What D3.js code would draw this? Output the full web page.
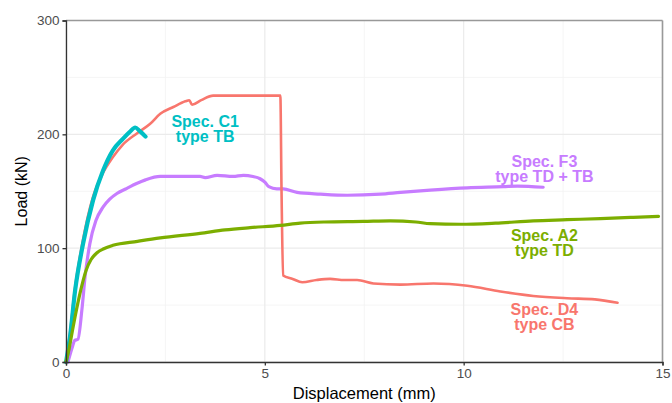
<!DOCTYPE html>
<html><head><meta charset="utf-8">
<script src="https://cdn.jsdelivr.net/npm/d3@7"></script>
<style>body{margin:0;background:#fff}svg{display:block}</style>
</head><body><div id="chart"></div>
<script>
// ---- data ----
const seriesNames = ["D4", "F3", "A2", "C1"];
const d4Disp = [0,0.1,0.22,0.42,0.67,0.93,1.18,1.43,1.79,2.11,2.37,2.7,3.0,3.1,3.17,3.4,3.7,5.39,5.42,5.46,5.7,5.94,6.3,6.64,7.0,7.32,7.73,8.41,9.24,10.09,10.92,11.75,12.6,13.3,13.87];
const d4Load = [0,25,63,106,144,166,180,191,201,209,218,224,229,230,226,230,234,234,150,76,73,70,72,73,72,72,69,68,69,67,62,58,56,55,52];
const c1Disp = [0,0.1,0.23,0.43,0.68,0.93,1.18,1.43,1.6,1.74,1.85,2.0];
const c1Load = [0,22,63,104,142,168,186,196,202,206,203,198];
const f3Disp = [0.05,0.15,0.22,0.3,0.4,0.48,0.6,0.75,0.93,1.1,1.28,1.5,1.79,2.0,2.37,2.8,3.37,3.5,3.8,4.2,4.46,4.7,4.88,5.0,5.1,5.3,5.46,5.81,6.4,7.07,7.9,8.41,9.16,10.09,11.0,11.35,12.0];
const f3Load = [0,12,19,20,46,75,104,124,136,143,148,152,157,160,163,163,163,162,164,163,164,163,161,158,154,152,152,149,147.5,146.5,147.5,149,151,153,154,154.5,153.5];
const a2Disp = [0,0.08,0.18,0.35,0.5,0.63,0.78,0.95,1.18,1.8,2.37,3.37,4.0,4.63,5.39,5.89,6.5,7.48,8.15,8.8,9.16,9.92,10.8,11.75,12.6,13.44,14.2,14.9];
const a2Load = [0,12,31,60,80,90,96,99.5,102.5,106,109,113,116,118,120,122,123,123.5,124,123,121.5,121,122,124,125,126,127,128];
const xTicks = [0,5,10,15];
const yTicks = [0,100,200,300];
const labelLines = {
  C1: ["Spec. C1","type TB"],
  F3: ["Spec. F3","type TD + TB"],
  A2: ["Spec. A2","type TD"],
  D4: ["Spec. D4","type CB"]
};
const labelAnchorDisp = {C1:3.5, F3:12.03, A2:12.03, D4:12.03};
const labelAnchorLoad = {C1:206.5, F3:171.5, A2:106.5, D4:41.5};

// ---- layout ----
const W = 672, H = 403;
const colors = {D4:"#F8766D", A2:"#7CAE00", C1:"#00BFC4", F3:"#C77CFF"};
const widths = {D4:2.6, A2:3.2, C1:4.2, F3:3.2};
const x = d3.scaleLinear().domain([0,15]).range([66,662.5]);
const y = d3.scaleLinear().domain([0,300]).range([362,20.5]);

const svg = d3.select("#chart").append("svg").attr("width",W).attr("height",H)
  .style("font-family","'Liberation Sans', Arial, sans-serif");

// grid
const g = svg.append("g");
const minorX = [2.5,7.5,12.5], minorY = [50,150,250];
g.selectAll(".mx").data(minorX).enter().append("line")
  .attr("x1",d=>x(d)).attr("x2",d=>x(d)).attr("y1",y(0)).attr("y2",y(300))
  .attr("stroke","#F2F2F2").attr("stroke-width",0.8);
g.selectAll(".my").data(minorY).enter().append("line")
  .attr("y1",d=>y(d)).attr("y2",d=>y(d)).attr("x1",x(0)).attr("x2",x(15))
  .attr("stroke","#F2F2F2").attr("stroke-width",0.8);
g.selectAll(".Mx").data(xTicks).enter().append("line")
  .attr("x1",d=>x(d)).attr("x2",d=>x(d)).attr("y1",y(0)).attr("y2",y(300))
  .attr("stroke","#EBEBEB").attr("stroke-width",1.2);
g.selectAll(".My").data(yTicks).enter().append("line")
  .attr("y1",d=>y(d)).attr("y2",d=>y(d)).attr("x1",x(0)).attr("x2",x(15))
  .attr("stroke","#EBEBEB").attr("stroke-width",1.2);

// top/right border
svg.append("line").attr("x1",x(0)).attr("x2",x(15)).attr("y1",y(300)).attr("y2",y(300))
  .attr("stroke","#999").attr("stroke-width",1.6);
svg.append("line").attr("x1",x(15)).attr("x2",x(15)).attr("y1",y(0)).attr("y2",y(300))
  .attr("stroke","#999").attr("stroke-width",1.6);

// series
const line = d3.line().x(d=>x(d[0])).y(d=>y(d[1])).curve(d3.curveMonotoneX);
const seriesData = {
  D4: d3.zip(d4Disp,d4Load), C1: d3.zip(c1Disp,c1Load),
  F3: d3.zip(f3Disp,f3Load), A2: d3.zip(a2Disp,a2Load)
};
["F3","D4","C1","A2"].forEach(k=>{
  svg.append("path").datum(seriesData[k]).attr("d",line)
    .attr("fill","none").attr("stroke",colors[k]).attr("stroke-width",widths[k])
    .attr("stroke-linejoin","round").attr("stroke-linecap","round");
});

// axes
const xAxis = svg.append("g").attr("transform",`translate(0,${y(0)})`)
  .call(d3.axisBottom(x).tickValues(xTicks).tickFormat(d3.format("d")).tickSizeOuter(0).tickSize(3.5).tickPadding(3));
const yAxis = svg.append("g").attr("transform",`translate(${x(0)},0)`)
  .call(d3.axisLeft(y).tickValues(yTicks).tickSizeOuter(0).tickSize(3.5).tickPadding(3));
[xAxis,yAxis].forEach(a=>{
  a.select(".domain").attr("stroke","#333").attr("stroke-width",1.3);
  a.selectAll(".tick line").attr("stroke","#333").attr("stroke-width",1.3);
  a.selectAll(".tick text").attr("fill","#4D4D4D").style("font-size","13.5px").style("font-family","'Liberation Sans', Arial, sans-serif");
});

// axis titles
svg.append("text").attr("x",(x(0)+x(15))/2).attr("y",398.5).attr("text-anchor","middle")
  .style("font-size","16.5px").attr("fill","#000").text("Displacement (mm)");
svg.append("text").attr("transform",`translate(27,${(y(0)+y(300))/2}) rotate(-90)`).attr("text-anchor","middle")
  .style("font-size","16px").attr("fill","#000").text("Load (kN)");

// labels
Object.keys(labelLines).forEach(k=>{
  labelLines[k].forEach((s,i)=>{
    svg.append("text").attr("text-anchor","middle").attr("fill",colors[k])
      .style("font-size","16px").style("font-weight","bold")
      .attr("x",x(labelAnchorDisp[k])).attr("y",y(labelAnchorLoad[k])+i*15.5).text(s);
  });
});
</script></body></html>
